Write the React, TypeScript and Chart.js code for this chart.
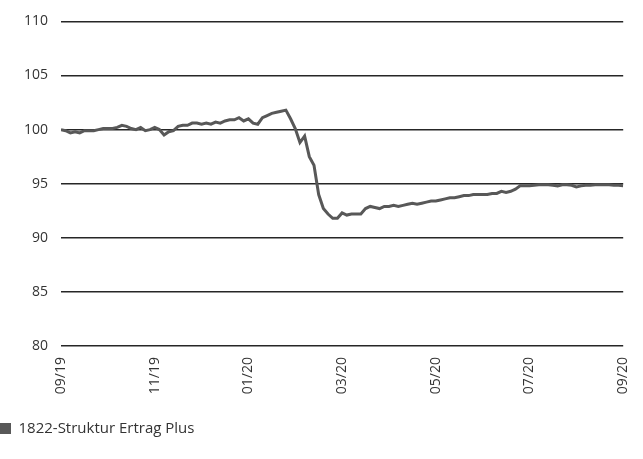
import { useEffect, useRef } from "react";
import { Chart, registerables } from "chart.js";

Chart.register(...registerables);

// Month labels along the time axis (one every two months)
const tickLabels = ["09/19", "11/19", "01/20", "03/20", "05/20", "07/20", "09/20"];

// Number of samples between two neighbouring month labels
const samplesPerTick = 20;

const seriesName = "1822-Struktur Ertrag Plus";

// Fund price index, 09/2019 = 100
const values = [
  100.0, 99.9, 99.7, 99.8, 99.7, 99.9, 99.9, 99.9, 100.0, 100.1,
  100.1, 100.1, 100.2, 100.4, 100.3, 100.1, 100.0, 100.2, 99.9, 100.0,
  100.2, 100.0, 99.5, 99.8, 99.9, 100.3, 100.4, 100.4, 100.6, 100.6,
  100.5, 100.6, 100.5, 100.7, 100.6, 100.8, 100.9, 100.9, 101.1, 100.8,
  101.0, 100.6, 100.5, 101.1, 101.3, 101.5, 101.6, 101.7, 101.8, 101.0,
  100.1, 98.8, 99.4, 97.5, 96.7, 94.0, 92.7, 92.2, 91.8, 91.8,
  92.3, 92.1, 92.2, 92.2, 92.2, 92.7, 92.9, 92.8, 92.7, 92.9,
  92.9, 93.0, 92.9, 93.0, 93.1, 93.2, 93.1, 93.2, 93.3, 93.4,
  93.4, 93.5, 93.6, 93.7, 93.7, 93.8, 93.9, 93.9, 94.0, 94.0,
  94.0, 94.0, 94.1, 94.1, 94.3, 94.2, 94.3, 94.5, 94.8, 94.8,
  94.8, 94.85, 94.9, 94.9, 94.9, 94.85, 94.8, 94.9, 94.9, 94.85,
  94.7, 94.8, 94.85, 94.85, 94.9, 94.9, 94.9, 94.9, 94.85, 94.85,
  94.8,
];

const yMin = 80;
const yMax = 110;
const yStep = 5;

const FONT = "'Open Sans', 'Noto Sans', sans-serif";
const TEXT = "#333333";
const LINE = "#585858";
const GRID = "#262626";

export default function App() {
  const canvasRef = useRef<HTMLCanvasElement | null>(null);

  useEffect(() => {
    const canvas = canvasRef.current;
    if (!canvas) return;

    const points = values.map((v, i) => ({ x: i / samplesPerTick, y: v }));

    const chart = new Chart(canvas, {
      type: "line",
      data: {
        datasets: [
          {
            label: seriesName,
            data: points,
            borderColor: LINE,
            backgroundColor: LINE,
            borderWidth: 3,
            pointRadius: 0,
            tension: 0,
            fill: false,
          },
        ],
      },
      options: {
        animation: false,
        responsive: false,
        maintainAspectRatio: false,
        layout: { padding: { left: 0, right: 8, top: 9, bottom: 13 } },
        plugins: {
          tooltip: { enabled: false },
          legend: {
            position: "bottom",
            align: "start",
            labels: {
              color: TEXT,
              font: { family: FONT, size: 15 },
              boxWidth: 11,
              boxHeight: 11,
              padding: 0,
              generateLabels: (c) =>
                Chart.defaults.plugins.legend.labels
                  .generateLabels(c)
                  .map((l) => ({ ...l, lineWidth: 0 })),
            },
          },
        },
        scales: {
          x: {
            type: "linear",
            min: 0,
            max: tickLabels.length - 1,
            grid: { display: false },
            border: { display: false },
            ticks: {
              stepSize: 1,
              autoSkip: false,
              maxRotation: 90,
              minRotation: 90,
              padding: 3,
              color: TEXT,
              font: { family: FONT, size: 14 },
              callback: (v) => tickLabels[Number(v)] ?? "",
            },
            afterFit: (scale) => {
              scale.height = 75;
            },
          },
          y: {
            min: yMin,
            max: yMax,
            grid: { color: GRID, lineWidth: 1.5, drawTicks: false },
            border: { display: false },
            ticks: {
              stepSize: yStep,
              padding: 13,
              color: TEXT,
              font: { family: FONT, size: 14 },
            },
            afterFit: (scale) => {
              scale.width = 61;
            },
          },
        },
      },
    });

    return () => chart.destroy();
  }, []);

  return (
    <div style={{ position: "absolute", left: 0, top: 0, width: 643, height: 459, background: "#fff" }}>
      <canvas ref={canvasRef} width={643} height={459} style={{ display: "block" }} />
    </div>
  );
}
